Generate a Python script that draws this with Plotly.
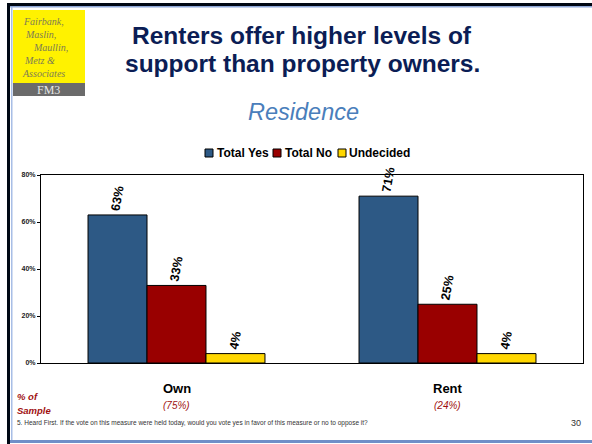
import plotly.graph_objects as go

categories = ["Own", "Rent"]
sample_share = ["(75%)", "(24%)"]
total_yes = [63, 71]
total_no = [33, 25]
undecided = [4, 4]
series_names = ["Total Yes", "Total No", "Undecided"]
series_colors = ["#2D5985", "#990000", "#FFD700"]
y_ticks = [0, 20, 40, 60, 80]
y_tick_text = ["0%", "20%", "40%", "60%", "80%"]

W, H = 592, 444
L, R, T, B = 41, 583, 175, 363  # plot area in pixels


def px(x):
    return (x - L) / (R - L)


def py(y):
    return (B - y) / (B - T)


ARIAL = "Arial, Liberation Sans"

fig = go.Figure()
for name, vals, col in zip(series_names, [total_yes, total_no, undecided], series_colors):
    fig.add_trace(go.Bar(
        name=name, x=categories, y=vals,
        marker=dict(color=col, line=dict(color="#000000", width=1)),
        text=[f"{v}%" for v in vals], textposition="outside", textangle=-80,
        constraintext="none", cliponaxis=False,
        textfont=dict(family=ARIAL, size=12.5, color="#000000", weight="bold"),
        showlegend=False,
    ))

shapes = []
# slide frame
shapes.append(dict(type="rect", xref="paper", yref="paper", x0=px(7), x1=px(592), y0=py(3), y1=py(6),
                   fillcolor="#000814", line_width=0, layer="above"))
shapes.append(dict(type="rect", xref="paper", yref="paper", x0=px(7), x1=px(10), y0=py(3), y1=py(444),
                   fillcolor="#000814", line_width=0, layer="above"))
shapes.append(dict(type="rect", xref="paper", yref="paper", x0=px(10), x1=px(592), y0=py(6), y1=py(7.5),
                   fillcolor="#8FA8D8", line_width=0, layer="above"))
shapes.append(dict(type="rect", xref="paper", yref="paper", x0=px(11), x1=px(12.5), y0=py(7), y1=py(441),
                   fillcolor="#A8BEE6", line_width=0, layer="above"))
shapes.append(dict(type="rect", xref="paper", yref="paper", x0=px(10), x1=px(592), y0=py(440), y1=py(443),
                   fillcolor="#6F8FC8", line_width=0, layer="above"))
# logo
shapes.append(dict(type="rect", xref="paper", yref="paper", x0=px(13), x1=px(85), y0=py(10), y1=py(83),
                   fillcolor="#FFF200", line_width=0))
shapes.append(dict(type="rect", xref="paper", yref="paper", x0=px(13), x1=px(85), y0=py(83), y1=py(96),
                   fillcolor="#6B6B6B", line_width=0))

ann = []
logo_lines = [("Fairbank,", 22, 21.5), ("Maslin,", 24, 34.5), ("Maullin,", 32, 47.5), ("Metz &", 23, 60.5), ("Associates", 21, 73.5)]
for t, x0, y0 in logo_lines:
    ann.append(dict(text=t, x=px(x0), y=py(y0), xref="paper", yref="paper", xanchor="left", yanchor="middle",
                    showarrow=False, borderpad=0,
                    font=dict(family="Liberation Serif, DejaVu Serif", size=10, color="#7C7C55", style="italic")))
ann.append(dict(text="FM3", x=px(48), y=py(89.5), xref="paper", yref="paper", xanchor="center", yanchor="middle",
                showarrow=False, font=dict(family="Liberation Serif, DejaVu Serif", size=12, color="#E6E6E6")))
ann.append(dict(text="<b>Renters offer higher levels of</b>", x=px(302), y=py(35),
                xref="paper", yref="paper", xanchor="center", yanchor="middle", showarrow=False,
                font=dict(family=ARIAL, size=24.5, color="#0B1D55")))
ann.append(dict(text="<b>support than property owners.</b>", x=px(302), y=py(63),
                xref="paper", yref="paper", xanchor="center", yanchor="middle", showarrow=False,
                font=dict(family=ARIAL, size=24.5, color="#0B1D55")))
ann.append(dict(text="<i>Residence</i>", x=px(303), y=py(112), xref="paper", yref="paper", xanchor="center",
                yanchor="middle", showarrow=False,
                font=dict(family=ARIAL, size=23.5, color="#4A7EBB")))

# legend (drawn as boxes + text)
legend_pos = [205, 273, 338]
for name, col, x0 in zip(series_names, series_colors, legend_pos):
    shapes.append(dict(type="rect", xref="paper", yref="paper", x0=px(x0), x1=px(x0 + 8), y0=py(149), y1=py(157),
                       fillcolor=col, line=dict(color="#000000", width=1)))
    ann.append(dict(text=f"<b>{name}</b>", x=px(x0 + 9.5), y=py(153), xref="paper", yref="paper", xanchor="left",
                    yanchor="middle", showarrow=False, font=dict(family=ARIAL, size=12, color="#000000")))

for c, s in zip(categories, sample_share):
    ann.append(dict(text=f"<b>{c}</b>", x=c, xref="x", y=py(388), yref="paper", xanchor="center", yanchor="middle",
                    showarrow=False, font=dict(family=ARIAL, size=13, color="#000000")))
    ann.append(dict(text=f"<i>{s}</i>", x=c, xref="x", y=py(405), yref="paper", xanchor="center", yanchor="middle",
                    showarrow=False, font=dict(family=ARIAL, size=10, color="#A01010")))
ann.append(dict(text="<b><i>% of</i></b>", x=px(15), y=py(396), xref="paper", yref="paper", xanchor="left",
                yanchor="middle", showarrow=False, font=dict(family=ARIAL, size=9.5, color="#A01010")))
ann.append(dict(text="<b><i>Sample</i></b>", x=px(15), y=py(410), xref="paper", yref="paper", xanchor="left",
                yanchor="middle", showarrow=False, font=dict(family=ARIAL, size=9.5, color="#A01010")))
ann.append(dict(text="5. Heard First. If the vote on this measure were held today, would you vote yes in favor of this measure or no to oppose it?",
                x=px(15), y=py(423), xref="paper", yref="paper", xanchor="left", yanchor="middle", showarrow=False,
                font=dict(family=ARIAL, size=6.5, color="#333333")))
ann.append(dict(text="30", x=px(583), y=py(423), xref="paper", yref="paper", xanchor="right", yanchor="middle",
                showarrow=False, font=dict(family=ARIAL, size=9, color="#333333")))

fig.update_layout(
    width=W, height=H,
    margin=dict(l=L, r=W - R, t=T, b=H - B, pad=0),
    paper_bgcolor="#FFFFFF", plot_bgcolor="#FFFFFF",
    barmode="group", bargap=0.347, bargroupgap=0,
    showlegend=False,
    xaxis=dict(showticklabels=False, showline=True, mirror=True, linecolor="#000000", linewidth=1,
               ticks="", showgrid=False, zeroline=False),
    yaxis=dict(range=[0, 80], tickvals=y_ticks, ticktext=y_tick_text, ticks="outside", ticklen=3,
               tickcolor="#000000", showline=True, mirror=True, linecolor="#000000", linewidth=1,
               showgrid=False, zeroline=False,
               tickfont=dict(family=ARIAL, size=7, color="#222222", weight="bold")),
    shapes=shapes, annotations=ann,
    font=dict(family=ARIAL),
)

fig.write_html("out.html", config={"displayModeBar": False},
               post_script="document.body.style.margin='0';document.body.style.overflow='hidden';"
                           "document.documentElement.style.overflow='hidden';")
